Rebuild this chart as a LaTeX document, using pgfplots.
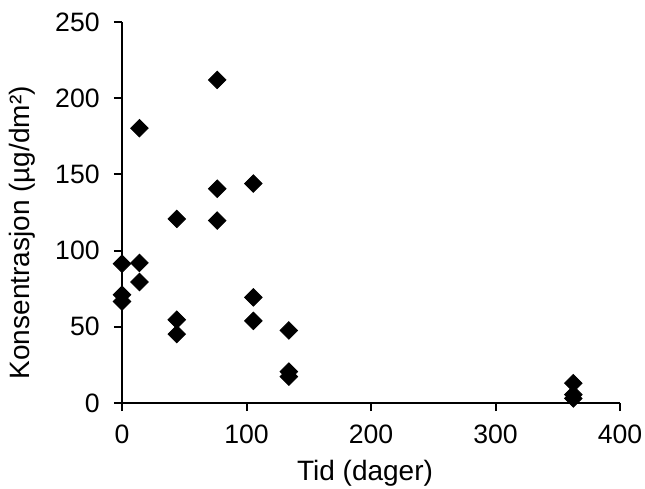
\documentclass[border=0pt]{standalone}
\usepackage{pgfplots}
\pgfplotsset{compat=1.18}
\usetikzlibrary{calc}
\usepackage{fontspec}
\setmainfont{Liberation Sans}

\begin{document}
\fontsize{13.5}{16}\selectfont
\begin{tikzpicture}
\begin{axis}[
  name=ax,
  scale only axis,
  width=249pt, height=190.5pt,
  xmin=0, xmax=400, ymin=0, ymax=250,
  xtick={0,100,...,400}, ytick={0,50,...,250},
  axis x line*=bottom, axis y line*=left,
  axis line style={line width=1pt, black},
  tick style={line width=1pt, black},
  tick align=outside, major tick length=4pt,
  xtick pos=bottom, ytick pos=left,
  clip=false,
  /pgf/number format/assume math mode=true,
  ticklabel style={font=\fontsize{13.3}{16}\selectfont},
  xticklabel style={yshift=-2.5pt},
  yticklabel style={xshift=-2.5pt},
  label style={font=\fontsize{14}{16}\selectfont},
  xlabel style={at={(ticklabel cs:0.488)}, yshift=1pt},
  ylabel style={at={(ticklabel cs:0.447)}, yshift=1pt},
  xlabel={Tid (dager)},
  ylabel={Konsentrasjon (µg/dm²)},
]
\addplot[only marks, mark=square*, mark size=3.1pt,
  mark options={rotate=45, fill=black, draw=black}]
  coordinates {
  (0,91.4) (0,71) (0,66.6)
  (14,180.3) (14,91.9) (14,79.4)
  (44,120.8) (44,54.6) (44,45.2)
  (76.5,212) (76.5,140.6) (76.5,119.7)
  (105.5,144) (105.5,69.3) (105.5,53.9)
  (134,47.6) (134,20.6) (134,17.3)
  (362.5,13) (362.5,5.5) (362.5,3)
  };
\end{axis}
\pgfresetboundingbox
\path ($(ax.south west)+(-61pt,-42.5pt)$) rectangle ($(ax.north east)+(12.5pt,11pt)$);
\end{tikzpicture}
\end{document}
